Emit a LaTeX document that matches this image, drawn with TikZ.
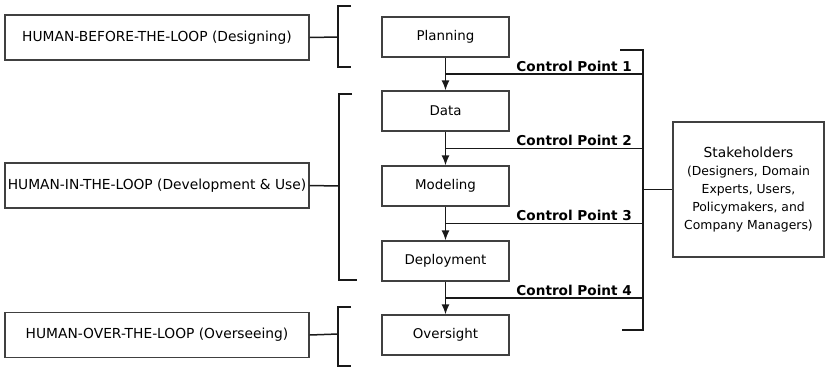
\documentclass[tikz,border=0pt]{standalone}
\usepackage{fontspec}
\setmainfont{DejaVu Sans}
\usetikzlibrary{arrows.meta,calc}
\tikzset{stage/.append style={draw=black!75, line width=1.3pt, minimum width=127pt, minimum height=40pt, inner sep=0pt, font=\fontsize{13.4}{16}\selectfont}}
\tikzset{phase/.append style={draw=black!75, line width=1.3pt, minimum width=304pt, minimum height=45pt, inner sep=0pt, font=\fontsize{13.8}{16}\selectfont}}
\tikzset{cp/.append style={font=\bfseries\fontsize{13.6}{16}\selectfont, anchor=south east, inner sep=0pt}}
\tikzset{ln/.append style={line width=1.5pt, black!90}}

\begin{document}
\begin{tikzpicture}[x=1pt,y=-1pt]
                \useasboundingbox (0,0) rectangle (827,368);
                % stages
                \node[stage] (plan) at (445.5,37) {Planning};
                \node[stage] (data) at (445.5,111) {Data};
                \node[stage] (model) at (445.5,186) {Modeling};
                \node[stage] (deploy) at (445.5,261) {Deployment};
                \node[stage] (over) at (445.5,335) {Oversight};
                % phases
                \node[phase] (hbl) at (157,37.5) {HUMAN-BEFORE-THE-LOOP (Designing)};
                \node[phase] (hil) at (157,185.5) {HUMAN-IN-THE-LOOP (Development \& Use)};
                \node[phase] (hol) at (157,335) {HUMAN-OVER-THE-LOOP (Overseeing)};
                % stakeholders
                \node[draw=black!75, line width=1.3pt, minimum width=151pt, minimum height=135pt, align=center, inner sep=0pt, font=\fontsize{12.4}{18}\selectfont] (stake) at (748.5,189.5)
                    {{\fontsize{13.8}{18}\selectfont Stakeholders}\\(Designers, Domain\\Experts, Users,\\Policymakers, and\\Company Managers)};
                % brackets
                \coordinate (br1) at (338,37);
                \coordinate (br2) at (339,186);
                \coordinate (br3) at (338,334);
                \draw[ln] (351,6) -- (338,6) -- (338,67) -- (351,67);
                \draw[ln] (352,94) -- (339,94) -- (339,280) -- (357,280);
                \draw[ln] (351,307) -- (338,307) -- (338,366) -- (351,366);
                \draw[ln] (hbl.east) -- (br1);
                \draw[ln] (hil.east) -- (br2);
                \draw[ln] (hol.east) -- (br3);
                % flow
                \foreach \a/\b in {plan/data, data/model, model/deploy, deploy/over}
                    \draw[ln, -{Latex[length=10pt,width=8pt]}] (\a) -- (\b);
                % control points
                \coordinate (bus) at (643,0);
                \draw[ln] (620,50) -- (643,50) -- (643,330) -- (622,330);
                \coordinate (c1) at ($(plan.south)!0.5!(data.north)$);
                \coordinate (c2) at ($(data.south)!0.5!(model.north)$);
                \coordinate (c3) at ($(model.south)!0.5!(deploy.north)$);
                \coordinate (c4) at ($(deploy.south)!0.5!(over.north)$);
                \foreach \c/\n in {c1/1, c2/2, c3/3, c4/4}{
                    \draw[ln] (\c) -- (\c -| bus);
                    \node[cp] at ($(\c -| bus)+(-11,-2.5)$) {Control Point \n};
                }
                \draw[ln] (stake.west) -- (stake.west -| bus);
            \end{tikzpicture}
\end{document}
